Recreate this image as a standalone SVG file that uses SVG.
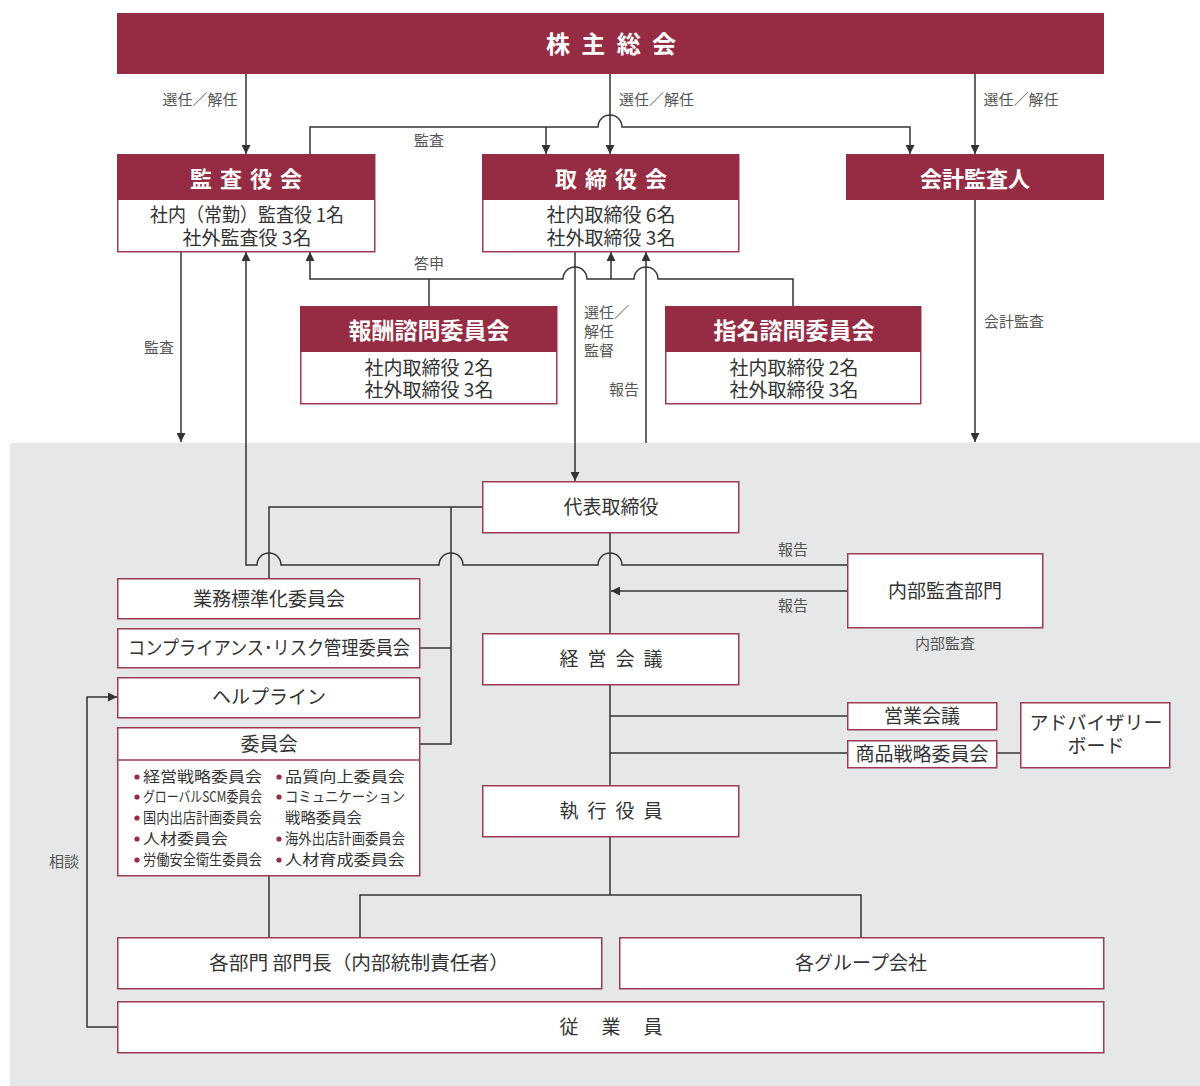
<svg xmlns="http://www.w3.org/2000/svg" width="1200" height="1086" viewBox="0 0 1200 1086">
<style>
text{font-family:"Noto Sans CJK JP","Noto Sans",sans-serif;dominant-baseline:central;transform:translateY(-1.5px);}
.hd{fill:#952c44;}
.hdt{fill:#ffffff;font-weight:bold;text-anchor:middle;}
.bx{fill:#ffffff;stroke:#9e3a52;stroke-width:1.5;}
.bt{fill:#333333;font-size:19px;text-anchor:middle;}
.lb{fill:#555555;font-size:15px;}
.lbm{fill:#555555;font-size:15px;text-anchor:middle;}
.ln{fill:none;stroke:#333333;stroke-width:1.5;}
.ar{fill:none;stroke:#333333;stroke-width:1.5;marker-end:url(#ah);}
.li{fill:#333333;font-size:14.5px;}
.dot{fill:#952c44;}
</style>
<defs>
<marker id="ah" viewBox="0 0 10 10" refX="10" refY="5" markerWidth="6" markerHeight="6" orient="auto" markerUnits="strokeWidth">
<path d="M0,0 L10,5 L0,10 z" fill="#333333"/>
</marker>
</defs>
<rect x="10" y="443" width="1190" height="643" fill="#e6e7e9"/>

<g id="connectors">
<path class="ar" d="M246,74 V154"/>
<path class="ar" d="M610,74 V154"/>
<path class="ar" d="M975,74 V154"/>
<path class="ar" d="M310,154 V127 H598 A12,12 0 0 1 622,127 H910 V154"/>
<path class="ar" d="M546,127 V154"/>
<path class="ar" d="M181,252 V442"/>
<path class="ar" d="M975,200 V442"/>
<path class="ar" d="M793,306 V279 H658 A12,12 0 0 0 634,279 H587 A12,12 0 0 0 563,279 H310 V252"/>
<path class="ln" d="M429,306 V279"/>
<path class="ar" d="M611,279 V252"/>
<path class="ar" d="M575,252 V481"/>
<path class="ar" d="M646,443 V252"/>
<path class="ar" d="M847,565 H622 A12,12 0 0 0 598,565 H463 A12,12 0 0 0 439,565 H281 A12,12 0 0 0 257,565 H246 V252"/>
<path class="ln" d="M482,507 H269 V578"/>
<path class="ln" d="M451,507 V744 H420"/>
<path class="ln" d="M451,648 H420"/>
<path class="ar" d="M847,591 H611"/>
<path class="ln" d="M610,533 V633"/>
<path class="ln" d="M610,685 V785"/>
<path class="ln" d="M610,716 H847"/>
<path class="ln" d="M610,753 H847"/>
<path class="ln" d="M997,753 H1020"/>
<path class="ln" d="M610,837 V895"/>
<path class="ln" d="M360,937 V895 H861 V937"/>
<path class="ln" d="M269,876 V937"/>
<path class="ar" d="M117,1027 H87 V697 H117"/>
</g>

<g id="labels">
<text class="lbm" x="200" y="100">選任／解任</text>
<text class="lb" x="619" y="100">選任／解任</text>
<text class="lbm" x="1021" y="100">選任／解任</text>
<text class="lbm" x="429" y="141">監査</text>
<text class="lbm" x="429" y="264">答申</text>
<text class="lbm" x="159" y="348">監査</text>
<text class="lb" x="584" y="313">選任／</text>
<text class="lb" x="584" y="332">解任</text>
<text class="lb" x="584" y="351">監督</text>
<text class="lbm" x="624" y="390">報告</text>
<text class="lb" x="984" y="322">会計監査</text>
<text class="lbm" x="793" y="550">報告</text>
<text class="lbm" x="793" y="606">報告</text>
<text class="lbm" x="945" y="644">内部監査</text>
<text class="lbm" x="64" y="862">相談</text>
</g>

<g id="shareholders">
<rect class="hd" x="117" y="13" width="987" height="61"/>
<text class="hdt" x="611" y="44" font-size="24" textLength="130" lengthAdjust="spacing">株主総会</text>
</g>

<g id="kansayakukai">
<rect class="bx" x="117.75" y="154.75" width="257" height="97"/>
<rect class="hd" x="117" y="154" width="258" height="46"/>
<text class="hdt" x="246" y="178" font-size="22" textLength="112" lengthAdjust="spacing">監査役会</text>
<text class="bt" x="247" y="215" textLength="194" lengthAdjust="spacingAndGlyphs">社内（常勤）監査役 1名</text>
<text class="bt" x="247" y="238">社外監査役 3名</text>
</g>

<g id="torishimariyakukai">
<rect class="bx" x="482.75" y="154.75" width="256" height="97"/>
<rect class="hd" x="482" y="154" width="257" height="46"/>
<text class="hdt" x="611" y="178" font-size="22" textLength="112" lengthAdjust="spacing">取締役会</text>
<text class="bt" x="611" y="215">社内取締役 6名</text>
<text class="bt" x="611" y="238">社外取締役 3名</text>
</g>

<g id="kaikeikansanin">
<rect class="hd" x="846" y="154" width="258" height="46"/>
<text class="hdt" x="975" y="178" font-size="22">会計監査人</text>
</g>

<g id="houshu">
<rect class="bx" x="300.75" y="306.75" width="256" height="97"/>
<rect class="hd" x="300" y="306" width="257" height="46"/>
<text class="hdt" x="429" y="330" font-size="23">報酬諮問委員会</text>
<text class="bt" x="429" y="368">社内取締役 2名</text>
<text class="bt" x="429" y="390">社外取締役 3名</text>
</g>

<g id="shimei">
<rect class="bx" x="665.75" y="306.75" width="255" height="97"/>
<rect class="hd" x="665" y="306" width="256" height="46"/>
<text class="hdt" x="794" y="330" font-size="23">指名諮問委員会</text>
<text class="bt" x="794" y="368">社内取締役 2名</text>
<text class="bt" x="794" y="390">社外取締役 3名</text>
</g>

<g id="daihyo">
<rect class="bx" x="482.75" y="481.75" width="256" height="51"/>
<text class="bt" x="611" y="507" font-size="21">代表取締役</text>
</g>

<g id="naibukansa">
<rect class="bx" x="847.75" y="553.75" width="195" height="74"/>
<text class="bt" x="945" y="591" font-size="21">内部監査部門</text>
</g>

<g id="keieikaigi">
<rect class="bx" x="482.75" y="633.75" width="256" height="51"/>
<text class="bt" x="611" y="659" font-size="21" textLength="103" lengthAdjust="spacing">経営会議</text>
</g>

<g id="eigyokaigi">
<rect class="bx" x="847.75" y="702.75" width="149" height="27"/>
<text class="bt" x="922" y="716" font-size="18.5">営業会議</text>
</g>

<g id="shohin">
<rect class="bx" x="847.75" y="740.75" width="149" height="27"/>
<text class="bt" x="922" y="754" font-size="18.5">商品戦略委員会</text>
</g>

<g id="advisory">
<rect class="bx" x="1020.75" y="702.75" width="149" height="65"/>
<text class="bt" x="1096" y="723">アドバイザリー</text>
<text class="bt" x="1096" y="746">ボード</text>
</g>

<g id="shikkoyakuin">
<rect class="bx" x="482.75" y="785.75" width="256" height="51"/>
<text class="bt" x="611" y="811" font-size="21" textLength="103" lengthAdjust="spacing">執行役員</text>
</g>

<g id="gyomu">
<rect class="bx" x="117.75" y="578.75" width="302" height="40"/>
<text class="bt" x="269" y="599">業務標準化委員会</text>
</g>

<g id="compliance">
<rect class="bx" x="117.75" y="628.75" width="302" height="39"/>
<text class="bt" x="269" y="648" textLength="282" lengthAdjust="spacingAndGlyphs">コンプライアンス･リスク管理委員会</text>
</g>

<g id="helpline">
<rect class="bx" x="117.75" y="677.75" width="302" height="40"/>
<text class="bt" x="269" y="697">ヘルプライン</text>
</g>

<g id="iinkai">
<rect class="bx" x="117.75" y="727.75" width="302" height="148"/>
<line x1="118" y1="760" x2="420" y2="760" stroke="#9e3a52" stroke-width="1.5"/>
<text class="bt" x="269" y="744">委員会</text>
<circle class="dot" cx="137" cy="777" r="2.6"/>
<circle class="dot" cx="137" cy="797" r="2.6"/>
<circle class="dot" cx="137" cy="818" r="2.6"/>
<circle class="dot" cx="137" cy="839" r="2.6"/>
<circle class="dot" cx="137" cy="860" r="2.6"/>
<circle class="dot" cx="279" cy="777" r="2.6"/>
<circle class="dot" cx="279" cy="797" r="2.6"/>
<circle class="dot" cx="279" cy="839" r="2.6"/>
<circle class="dot" cx="279" cy="860" r="2.6"/>
<text class="li" x="143" y="777" textLength="119" lengthAdjust="spacingAndGlyphs">経営戦略委員会</text>
<text class="li" x="143" y="797" textLength="119" lengthAdjust="spacingAndGlyphs">グローバルSCM委員会</text>
<text class="li" x="143" y="818" textLength="119" lengthAdjust="spacingAndGlyphs">国内出店計画委員会</text>
<text class="li" x="143" y="839" textLength="85" lengthAdjust="spacingAndGlyphs">人材委員会</text>
<text class="li" x="143" y="860" textLength="119" lengthAdjust="spacingAndGlyphs">労働安全衛生委員会</text>
<text class="li" x="285" y="777" textLength="120" lengthAdjust="spacingAndGlyphs">品質向上委員会</text>
<text class="li" x="285" y="797" textLength="120" lengthAdjust="spacingAndGlyphs">コミュニケーション</text>
<text class="li" x="285" y="818" textLength="77" lengthAdjust="spacingAndGlyphs">戦略委員会</text>
<text class="li" x="285" y="839" textLength="120" lengthAdjust="spacingAndGlyphs">海外出店計画委員会</text>
<text class="li" x="285" y="860" textLength="120" lengthAdjust="spacingAndGlyphs">人材育成委員会</text>
</g>

<g id="bumon">
<rect class="bx" x="117.75" y="937.75" width="484" height="51"/>
<text class="bt" x="359" y="963" font-size="20" textLength="300" lengthAdjust="spacingAndGlyphs">各部門 部門長（内部統制責任者）</text>
</g>

<g id="group">
<rect class="bx" x="619.75" y="937.75" width="484" height="51"/>
<text class="bt" x="861" y="963" font-size="20">各グループ会社</text>
</g>

<g id="jugyoin">
<rect class="bx" x="117.75" y="1001.75" width="986" height="51"/>
<text class="bt" x="611" y="1027" font-size="20" textLength="103" lengthAdjust="spacing">従業員</text>
</g>
</svg>
